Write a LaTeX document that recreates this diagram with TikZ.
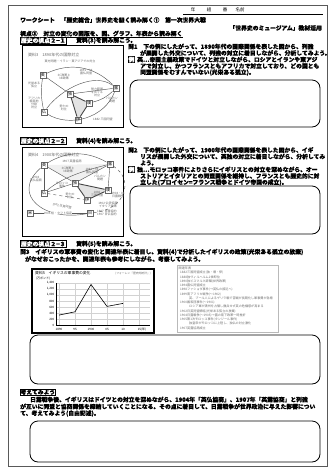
\documentclass[tikz,border=0pt]{standalone}
\usepackage{fontspec}
\setmainfont{Noto Sans CJK JP}[BoldFeatures={FakeBold=1.2}]
\usetikzlibrary{backgrounds}
\XeTeXlinebreaklocale "ja"
\XeTeXlinebreakskip=0pt plus 2pt
\newcommand\fsz[1]{\fontsize{#1}{#1}\selectfont}
\newcommand\jline[2]{\makebox[#1pt][s]{#2}}
\begin{document}
\begin{tikzpicture}[x=1pt,y=-1pt,
  body/.style={font=\fsz{5.8}\bfseries, inner sep=0pt, anchor=west},
  small/.style={font=\fsz{4.5}, inner sep=0pt},
  ans/.style={draw, line width=0.8pt, rounded corners=8pt},
  frm/.style={draw, line width=0.9pt},
  lbl/.style={draw, line width=0.6pt, inner sep=0.3pt, anchor=west, font=\fsz{5.8}\bfseries},
  exbox/.style={fill=black, text=white, inner sep=0.4pt, anchor=west, font=\fsz{5.8}\bfseries},
  ctry/.style={draw=gray!80!black, fill=white, font=\fsz{4}, inner sep=0.4pt, minimum size=6.5pt},
  ftxt/.style={font=\fsz{3}, text=gray!80!black, inner sep=0pt, align=center},
  fl/.style={draw=gray!70!black, line width=0.45pt},
  tri/.style={draw=gray!55!black, line width=0.9pt},
  chr/.style={font=\fsz{3.1}, text=gray!85!black, inner sep=0pt, anchor=west},
  gridl/.style={draw=gray!35, line width=0.3pt},
  axl/.style={font=\fsz{3}, inner sep=0pt}
]
\useasboundingbox (0,0) rectangle (332,469);
\coordinate (pgA) at (8,5);
\coordinate (pgB) at (327,466);
\draw[gray!70!black, line width=0.6pt] (pgA) rectangle (pgB);

% header
\node[small] (nen) at (193,10) {年};
\node[small] (kumi) at (209,10) {組};
\node[small] (ban) at (225,10) {番};
\node[small] (namae) at (240,10) {名前};
\coordinate (ulA) at (183,14);
\coordinate (ulB) at (323,14);
\draw[line width=0.5pt] (ulA) -- (ulB);
\node[body] (title) at (20,20) {ワークシート　「歴史総合」世界史を紐く読み解く①　第一次世界大戦};
\node[body, anchor=east] (museum) at (322,28) {「世界史のミュージアム」教材活用};
\node[body] (heading) at (20,33.5) {視点③　対立の変化の図版を、図、グラフ、年表から読み解く};
\draw[line width=0.6pt] ([yshift=-0.6pt]heading.south west) -- ([yshift=-0.6pt]heading.south east);

% ---------- section 2-1
\node[lbl] (l21) at (20,40.5) {\setlength\fboxsep{0.4pt}\colorbox{black}{\textcolor{white}{歴史の視点}}２−１};
\node[body] (s21) at (76,40.5) {資料(3)を読み解こう。};
\coordinate (f1A) at (22,45);
\coordinate (f1B) at (123,127);
\draw[frm] (f1A) rectangle (f1B);

\node[body] (q1a) at (128,46.5) {\jline{194}{問1　下の例にしたがって、1890年代の国際関係を表した図から、列強}};
\node[body] (q1b) at (140,53) {\jline{182}{が展開した外交について、列強の対立に着目しながら、分析してみよう。}};
\node[exbox] (ex1) at (128,59.5) {例};
\node[body] (q1c) at (137,59.5) {\jline{185}{英…帝国主義政策でドイツと対立しながら、ロシアとイランや東アジ}};
\node[body] (q1d) at (140,66) {\jline{182}{アで対立し、かつフランスともアフリカで対立しており、どの国とも}};
\node[body] (q1e) at (140,72.5) {同盟関係をむすんでいない(光栄ある孤立)。};
\coordinate (a1A) at (130,80);
\coordinate (a1B) at (320,127);
\draw[ans] (a1A) rectangle (a1B);

% figure 1
\node[ftxt, anchor=west, font=\fsz{4}] (f1t) at (28,55) {資料3　1890年代の国際対立};
\node[ftxt] (f1sub) at (70,61) {東方問題・イラン・東アジアでの対立};
\node[ctry] (f1uk) at (43,75) {英};
\node[ctry] (f1ru) at (116,88) {露};
\node[ctry] (f1de) at (70,94) {独};
\node[ctry] (f1at) at (89,103) {墺};
\node[ctry] (f1fr) at (44,112) {仏};
\node[ctry] (f1it) at (78,120) {伊};
\begin{scope}[on background layer]
\fill[gray!22] (f1de.center) -- (f1at.center) -- (f1it.center) -- cycle;
\end{scope}
\draw[fl] (f1uk) to[bend left=35] (f1ru);
\draw[fl] (f1uk) -- (f1de);
\draw[fl] (f1de) -- (f1ru);
\draw[fl] (f1fr) .. controls (62,88) and (95,72) .. (f1ru);
\draw[fl] (f1at) to[bend right=15] (f1ru);
\draw[fl] (f1uk) to[bend right=10] (f1fr);
\draw[fl] (f1fr) .. controls (70,128) and (105,118) .. (f1ru);
\draw[tri] (f1de) -- (f1at);
\draw[tri] (f1at) -- (f1it);
\draw[tri] (f1it) -- (f1de);
\node[ftxt] (f1n1) at (64,77) {3C政策と\\3B政策};
\node[ftxt] (f1n2) at (86,72) {1891・94\\露仏同盟};
\node[ftxt] (f1n3) at (34,85) {光栄ある\\孤立};
\node[ftxt] (f1n4) at (34,103) {アフリカ\\植民地\\分割\\対立};
\node[ftxt] (f1n5) at (97,92) {勢力範囲\\をめぐる\\対立};
\node[ftxt] (f1n6) at (112,100) {バルカン\\問題};
\node[ftxt] (f1n7) at (64,108) {勢力の\\対立};
\node[ftxt, anchor=west] (f1n8) at (93,119) {1882 三国同盟};

% ---------- section 2-2
\node[lbl] (l22) at (20,141) {\setlength\fboxsep{0.4pt}\colorbox{black}{\textcolor{white}{歴史の視点}}２−２};
\node[body] (s22) at (76,141) {資料(4)を読み解こう。};
\coordinate (f2A) at (22,147);
\coordinate (f2B) at (123,236);
\draw[frm] (f2A) rectangle (f2B);

\node[body] (q2a) at (128,150) {\jline{194}{問2　下の例にしたがって、1900年代の国際関係を表した図から、イギ}};
\node[body] (q2b) at (140,156.5) {\jline{182}{リスが展開した外交について、英独の対立に着目しながら、分析してみ}};
\node[body] (q2c) at (140,163) {よう。};
\node[exbox] (ex2) at (128,169.5) {例};
\node[body] (q2d) at (137,169.5) {\jline{185}{独…モロッコ事件によりさらにイギリスとの対立を深めながら、オー}};
\node[body] (q2e) at (140,176) {\jline{182}{ストリアとイタリアとの同盟関係を維持し、フランスとも歴史的に対}};
\node[body] (q2f) at (140,182.5) {立した(プロイセン=フランス戦争とドイツ帝国の成立)。};
\coordinate (a2A) at (130,186);
\coordinate (a2B) at (320,234);
\draw[ans] (a2A) rectangle (a2B);

% figure 2
\node[ftxt, anchor=west, font=\fsz{4}] (f2t) at (28,155) {資料4　1900年代の国際対立};
\node[ftxt] (f2top) at (72,161.5) {1907 英露協商};
\node[ctry] (f2uk) at (44,165) {英};
\node[ctry] (f2ru) at (110,164) {露};
\node[ctry] (f2de) at (75,183) {独};
\node[ctry] (f2at) at (108,190) {墺};
\node[ctry] (f2fr) at (44,193) {仏};
\node[ctry] (f2it) at (87,200) {伊};
\node[ctry] (f2us) at (30,213) {米};
\node[ctry] (f2jp) at (90,213) {日};
\begin{scope}[on background layer]
\fill[gray!22] (f2de.center) -- (f2at.center) -- (f2it.center) -- cycle;
\fill[gray!12] (f2uk.center) -- (f2ru.center) -- (f2de.center) -- cycle;
\end{scope}
\draw[fl] (f2uk) to[bend left=30] (f2ru);
\draw[fl] (f2uk) -- (f2fr);
\draw[fl] (f2uk) -- (f2de);
\draw[fl] (f2de) -- (f2ru);
\draw[fl] (f2fr) .. controls (65,175) and (95,168) .. (f2ru);
\draw[fl] (f2de) -- (f2fr);
\draw[fl] (f2at) -- (f2ru);
\draw[fl, dashed] (f2fr) -- (f2it);
\draw[fl, dashed] (f2ru) .. controls (135,180) and (125,210) .. (f2jp);
\draw[fl] (f2uk) .. controls (10,195) and (45,222) .. (f2jp);
\draw[fl] (f2us) -- (f2jp);
\draw[tri] (f2de) -- (f2at);
\draw[tri] (f2at) -- (f2it);
\draw[tri] (f2it) -- (f2de);
\node[ftxt] (f2n1) at (68,170) {3C政策と\\3B政策};
\node[ftxt] (f2n2) at (92,171) {1891・94\\露仏同盟};
\node[ftxt] (f2n3) at (36,179) {1904\\英仏協商};
\node[ftxt] (f2n4) at (62,185) {モロッコ\\事件};
\node[ftxt] (f2n5) at (100,178) {バルカン\\問題};
\node[ftxt] (f2n6) at (118,195) {1904・05\\日露戦争};
\node[ftxt] (f2n7) at (97,194) {1882\\三国同盟};
\node[ftxt] (f2n8) at (70,196) {勢力の\\対立};
\node[ftxt] (f2n9) at (108,205) {1902 仏伊協商\\イタリア政策};
\node[ftxt, rotate=-12] (f2n10) at (62,206) {1902 日英同盟};
\node[ftxt, fill=white] (f2n11) at (58,213) {1905 桂・タフト協定};
\node[ftxt, align=left, anchor=west] (f2n12) at (97,213) {1907 日露協約\\1907 日仏協約};

% ---------- section 2-3
\node[lbl] (l23) at (20,244) {\setlength\fboxsep{0.4pt}\colorbox{black}{\textcolor{white}{歴史の視点}}２−３};
\node[body] (s23) at (76,244) {資料(5)を読み解こう。};
\node[body] (q3a) at (20,252) {\jline{302}{問3　イギリスの軍事費の変化と関連年表に着目し、資料(4)で分析したイギリスの政策(光栄ある孤立の放棄)}};
\node[body] (q3b) at (25,259) {がなぜおこったかを、関連年表も参考にしながら、考察してみよう。};

% chart
\coordinate (chA) at (32,269);
\coordinate (chB) at (154,333);
\draw[line width=1.1pt] (chA) rectangle (chB);
\node[axl, anchor=west, font=\fsz{3.8}] (cht) at (35,273.5) {資料5　イギリスの軍事費の変化};
\node[axl, anchor=east, font=\fsz{2.8}, text=gray!80!black] (chs) at (151,273.5) {(フォーレン『歴史的統計』)};
\node[axl, anchor=west] (chu) at (36,279) {(万ポンド)};
\foreach \v/\t in {1400/1{,}400,1200/1{,}200,1000/1{,}000,800/800,600/600,400/400,200/200,0/0}{
  \draw[gridl] (56,325-\v*0.03) -- (150,325-\v*0.03);
  \node[axl, anchor=east] at (54.5,325-\v*0.03) {\t};
}
\foreach \x/\t in {59/1890,75/95,91/1900,107/05,123/10}{
  \draw[gridl] (\x,283) -- (\x,325);
  \node[axl] at (\x,329.5) {\t};
}
\draw[gridl] (139,283) -- (139,325);
\node[axl] (yr) at (142,329.5) {15(年)};
\draw[line width=0.5pt] (56,283) -- (56,325) -- (150,325);
\coordinate (d1) at (59,315.1);
\coordinate (d2) at (75,311.8);
\coordinate (d3) at (91,284.5);
\coordinate (d4) at (107,306.4);
\coordinate (d5) at (123,303.4);
\draw[line width=0.6pt] (d1) -- (d2) -- (d3) -- (d4) -- (d5);

% chronology
\coordinate (crA) at (177,265);
\coordinate (crB) at (278,332);
\draw[gray!55, line width=0.4pt] (crA) rectangle (crB);
\node[chr] (cr0) at (178.5,268.5) {関連年表};
\foreach \i/\y/\t in {1/1882/三国同盟成立(独・墺・伊),2/1888/独ヴィルヘルム2世即位,3/1890/独ビスマルク辞職(世界政策),4/1894/露仏同盟成立,5/1898/ファショダ事件(→英仏の接近へ),6/1899/南アフリカ戦争(〜1902),8/1900/義和団事件(〜1901),10/1902/日英同盟締結(光栄ある孤立の放棄),11/1904/日露戦争(〜1905)→露の南下政策一時挫折,12/1905/第1次モロッコ事件(タンジール事件),14/1907/英露協商成立}{
  \node[chr] at (180,268.5+\i*4.25) {\y};
  \node[chr] at (187,268.5+\i*4.25) {\t};
}
\node[chr] (cr7) at (189,268.5+7*4.25) {英、ブール人によるゲリラ戦で苦戦が長期化し軍事費が急増};
\node[chr] (cr9) at (189,268.5+9*4.25) {ロシア軍が満州を占領し撤兵せず英の危機感が高まる};
\node[chr] (cr13) at (189,268.5+13*4.25) {独皇帝がモロッコに上陸し、独仏の対立激化};

\coordinate (a3A) at (30,335);
\coordinate (a3B) at (320,384);
\draw[ans] (a3A) rectangle (a3B);

% ---------- think
\node[lbl] (k1) at (20,392) {考えてみよう};
\node[body] (t1) at (30,399.5) {\jline{292}{日露戦争後、イギリスはドイツとの対立を深めながら、1904年「英仏協商」、1907年「英露協商」と列強}};
\node[body] (t2) at (20,406.5) {\jline{302}{が互いに同盟と協商関係を締結していくことになる。その点に着目して、日露戦争が世界政治に与えた影響につい}};
\node[body] (t3) at (20,413.5) {て、考えてみよう(自由記述)。};
\coordinate (a4A) at (30,421);
\coordinate (a4B) at (320,462);
\draw[ans] (a4A) rectangle (a4B);
\end{tikzpicture}
\end{document}
